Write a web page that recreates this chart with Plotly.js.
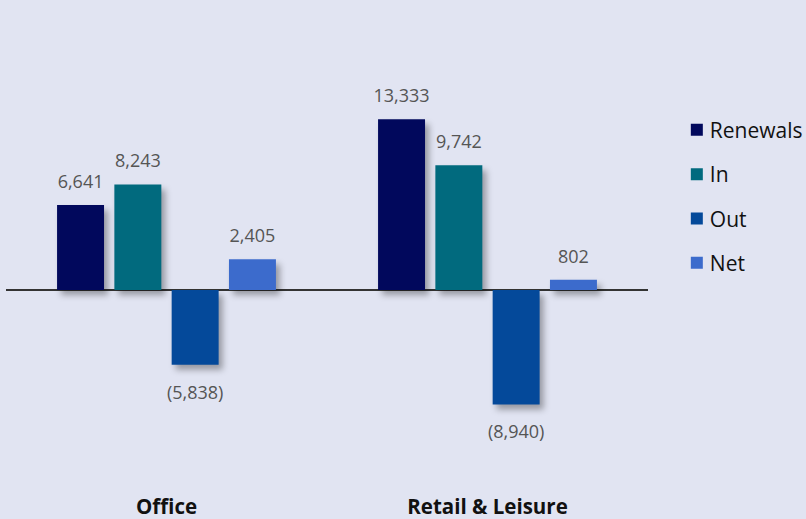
<!DOCTYPE html>
<html>
<head>
<meta charset="utf-8">
<script src="https://cdn.plot.ly/plotly-3.0.1.min.js"></script>
<style>
html,body{margin:0;padding:0;background:#e1e4f2;}
#chart{width:806px;height:519px;}
.js-plotly-plot .barlayer .point path{filter:drop-shadow(4px 5px 3px rgba(0,0,0,0.33));}
.js-plotly-plot .legend .legendpoints{transform:translateX(7px);}
</style>
</head>
<body>
<div id="chart"></div>
<script>
const categories = ["Office", "Retail & Leisure"];
const seriesNames = ["Renewals", "In", "Out", "Net"];
const renewals = [6641, 13333];
const inValues = [8243, 9742];
const outValues = [-5838, -8940];
const netValues = [2405, 802];
const colors = ["#01085c", "#016a7e", "#04499a", "#3c6bcc"];

const allSeries = [renewals, inValues, outValues, netValues];
const FONT = "'Open Sans', sans-serif";

function fmt(v) {
  const s = Math.abs(v).toLocaleString("en-US");
  return v < 0 ? "(" + s + ")" : s;
}

const traces = allSeries.map((vals, i) => ({
  type: "bar",
  name: seriesNames[i],
  x: categories,
  y: vals,
  text: vals.map(fmt),
  textposition: "outside",
  constraintext: "none",
  cliponaxis: false,
  textfont: {family: FONT, size: 18, color: "#555555"},
  marker: {color: colors[i]},
  legendgroup: "g" + i,
  hoverinfo: "none"
}));

const layout = {
  width: 806,
  height: 519,
  paper_bgcolor: "#e1e4f2",
  plot_bgcolor: "#e1e4f2",
  margin: {l: 6, r: 158, t: 20, b: 27, autoexpand: false},
  barmode: "group",
  bargap: 0.286,
  bargroupgap: 0.18,
  showlegend: true,
  legend: {
    x: 1.034, xanchor: "left",
    y: 0.81, yanchor: "top",
    font: {family: FONT, size: 21, color: "#111111"},
    tracegroupgap: 14,
    traceorder: "grouped",
    bgcolor: "rgba(0,0,0,0)"
  },
  xaxis: {
    showgrid: false, zeroline: false, showline: false,
    ticks: "",
    ticklabelstandoff: 0,
    tickfont: {family: FONT, size: 20.5, color: "#111111", weight: "bold"},
    fixedrange: true
  },
  yaxis: {
    range: [-15781, 21094],
    showgrid: false,
    showticklabels: false,
    zeroline: true,
    zerolinecolor: "#333333",
    zerolinewidth: 1.2,
    fixedrange: true
  },
  font: {family: FONT}
};

Plotly.newPlot("chart", traces, layout, {displayModeBar: false, staticPlot: true}).then(gd => {
  const traceGroups = gd.querySelectorAll(".barlayer .trace");
  traceGroups.forEach((tg, i) => {
    tg.querySelectorAll(".point").forEach((pt, j) => {
      const t = pt.querySelector("text");
      if (!t) return;
      const v = allSeries[i][j];
      const dy = v < 0 ? 12 : -9;
      const tr = t.getAttribute("transform") || "";
      t.setAttribute("transform", "translate(0," + dy + ") " + tr);
    });
  });
});
</script>
</body>
</html>
